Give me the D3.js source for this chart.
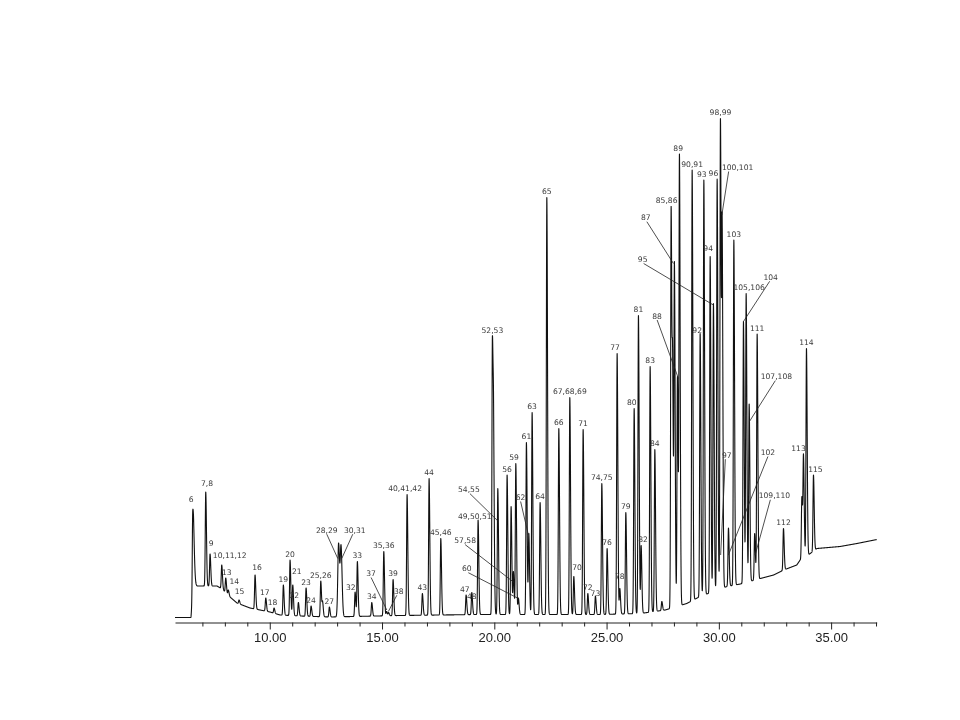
<!DOCTYPE html>
<html>
<head>
<meta charset="utf-8">
<script src="https://d3js.org/d3.v7.min.js"></script>
<style>
  body { margin: 0; background: #fff; }
  svg { will-change: transform; }
  .axis text { font-family: "Liberation Sans", Arial, sans-serif; font-size: 13px; fill: #222; }
  .axis path, .axis line { stroke: #222; }
  .lbl { font-family: "DejaVu Sans", Verdana, sans-serif; font-size: 7.6px; fill: #3a3a3a; }
</style>
</head>
<body>
<div id="chart"></div>
<script>
// peak labels ("" = unlabelled shoulder / second component)
const peakLabels = ["6","7,8","9","10,11,12","13","14","15","16","17","18",
  "19","20","21","22","23","24","25,26","","27","28,29",
  "30,31","32","33","34","35,36","37","38","39","40,41,42","43",
  "44","45,46","47","48","49,50,51","52,53","","54,55","56","57,58",
  "","59","60","61","62","63","64","65","66","67,68,69",
  "70","71","72","73","74,75","76","77","78","79","80",
  "81","82","83","84","","85,86","","87","88","89",
  "90,91","92","93","94","95","96","97","98,99","100,101","102",
  "103","104","105,106","107,108","109,110","111","112","","113","114","115"];

// retention time (min)
const peakTimes = [6.570,7.149,7.341,7.862,8.040,8.156,8.633,9.345,9.822,10.192,
  10.606,10.904,11.025,11.274,11.617,11.840,12.272,12.352,12.655,13.065,
  13.176,13.800,13.902,14.543,15.078,15.203,15.292,15.492,16.116,16.797,
  17.096,17.617,18.744,18.998,19.278,19.915,19.969,20.156,20.570,20.748,
  20.851,20.958,21.073,21.430,21.537,21.684,22.040,22.339,22.873,23.363,
  23.541,23.956,24.165,24.503,24.788,25.024,25.470,25.590,25.857,26.228,
  26.419,26.539,26.940,27.149,27.461,27.875,27.942,28.022,28.156,28.245,
  28.811,29.167,29.332,29.613,29.759,29.924,30.040,30.071,30.147,30.428,
  30.668,31.096,31.216,31.350,31.595,31.706,32.878,33.697,33.769,33.902,34.214];

// apex abundance (x1000)
const peakApex = [214,251,127,105,79,55,35,85,39,19,
  65,115,65,30,59,23,73,33,21,149,
  145,51,112,30,132,12,10,76,246,48,
  278,158,45,50,195,562,422,258,285,222,
  92,308,39,350,168,410,230,840,378,440,
  82,376,48,43,268,138,528,58,210,418,
  604,144,502,336,32,822,531,712,482,927,
  895,568,875,722,628,877,125,998,805,179,
  755,592,648,427,168,567,178,242,327,538,285];

// broader peaks: label -> [left sigma, right sigma] in min
const broadPeaks = { "6": [0.02, 0.055], "28,29": [0.035, 0.045], "30,31": [0.035, 0.045] };

// drifting baseline
const baseTimes = [5.78,6.49,6.606,7.03,7.65,7.88,8.23,8.54,9.12,9.57,
  10.01,10.46,11.35,12.69,15.81,19.37,24.71,26.50,27.61,28.57,
  29.16,29.76,30.36,30.96,31.85,32.44,32.89,33.47,33.62,33.98,
  34.37,35.40,36.15,37.04];
const baseValues = [0,0,63,63,63,57,41,29,19,15,
  11,5,3,1,4,6,6,8,15,28,
  42,52,62,67,78,85,95,105,115,125,
  138,142,148,156];

const majorTicks = [10, 15, 20, 25, 30, 35];
const minorTicks = d3.range(7, 38);

// label nudges (px) from the default spot just above the apex
const labelNudge = {
  "6":[-1.5,-5.5], "7,8":[1.3,-3], "9":[1,-5], "10,11,12":[8,-4], "13":[1,0], "14":[6,-3],
  "15":[0.5,-3], "16":[2,-2], "17":[-1,0], "18":[-1.5,0], "21":[4,-8], "22":[-4,-1],
  "32":[-4.3,1], "40,41,42":[-2,0], "47":[-1.3,0], "48":[0,9.5], "49,50,51":[-3.3,2.5],
  "59":[-1.7,0], "70":[3.3,-3], "73":[0,3], "77":[-2,0], "78":[0,-6.5], "80":[-2.3,0],
  "82":[2,0], "85,86":[-4.5,0], "89":[-1.3,0], "92":[-3,3], "93":[-2,0], "94":[-2,-2],
  "96":[-3.7,0], "105,106":[3,0], "113":[-5,0], "115":[2,0]
};

// labels with a leader line: target on the trace (time, abundance), text offset px, line start shift
const leaders = {
  "28,29":   { t: 13.029, v: 118, dx: -11,   dy: -25.8 },
  "30,31":   { t: 13.207, v: 118, dx: 13,    dy: -25.8, s: -2 },
  "37":      { t: 15.212, v: 15,  dx: -15.7, dy: -34 },
  "38":      { t: 15.283, v: 12,  dx: 10.4,  dy: -17.7, s: -2 },
  "54,55":   { t: 20.138, v: 194, dx: -28.5, dy: -28.4, s: 1 },
  "57,58":   { t: 20.882, v: 70,  dx: -49,   dy: -39.4 },
  "60":      { t: 21.074, v: 38,  dx: -51.6, dy: -27.3, s: 1.5 },
  "62":      { t: 21.519, v: 165, dx: -7.8,  dy: -35 },
  "87":      { t: 27.978, v: 708, dx: -27.6, dy: -43.3, s: 1 },
  "88":      { t: 28.200, v: 478, dx: -21.3, dy: -60 },
  "95":      { t: 29.759, v: 625, dx: -70.8, dy: -43,   s: 1 },
  "97":      { t: 30.080, v: 125, dx: 6.2,   dy: -97.3, s: -1.5 },
  "100,101": { t: 30.134, v: 805, dx: 15.8,  dy: -45,   s: -9 },
  "102":     { t: 30.426, v: 125, dx: 39.5,  dy: -100 },
  "104":     { t: 31.096, v: 592, dx: 27.2,  dy: -41.7, s: -1 },
  "107,108": { t: 31.363, v: 392, dx: 26.9,  dy: -42.4, s: -1 },
  "109,110": { t: 31.617, v: 125, dx: 19.2,  dy: -56.7, s: -4 }
};

const width = 960, height = 720;

const x = d3.scaleLinear().domain([5.78, 37.03]).range([175, 876.7]);
const y = d3.scaleLinear().domain([0, 1000]).range([617.5, 117.5]);

const baseline = d3.scaleLinear().domain(baseTimes).range(baseValues).clamp(true);

const peaks = peakLabels.map((label, i) => {
  const sig = broadPeaks[label] || [0.021, 0.032];
  return {
    label: label,
    t: peakTimes[i],
    apex: peakApex[i],
    excess: Math.max(0, peakApex[i] - baseline(peakTimes[i])),
    h: 0,
    sl: sig[0],
    sr: sig[1]
  };
});

function shape(p, t) {
  const d = t - p.t;
  const s = d < 0 ? p.sl : p.sr;
  return Math.abs(d) < 6 * s ? Math.exp(-0.5 * (d / s) * (d / s)) : 0;
}

// pick peak heights so overlapping neighbours still top out at the read apex
peaks.forEach(p => { p.h = p.excess; });
for (let k = 0; k < 40; k++) {
  const next = peaks.map(p => {
    let others = 0;
    peaks.forEach(q => { if (q !== p) others += q.h * shape(q, p.t); });
    return Math.max(0, p.excess - others);
  });
  peaks.forEach((p, i) => { p.h = 0.5 * p.h + 0.5 * next[i]; });
}

function signal(t) {
  let v = baseline(t);
  peaks.forEach(p => { v += p.h * shape(p, t); });
  return v;
}

// sample the trace finely, plus each apex
let ts = d3.range(x.domain()[0], x.domain()[1], 0.004).concat(peakTimes);
ts.sort((a, b) => a - b);
const trace = ts.map(t => [t, signal(t)]);

const svg = d3.select("#chart")
  .append("svg")
  .attr("width", width)
  .attr("height", height);

// x axis
const axis = svg.append("g")
  .attr("class", "axis")
  .attr("transform", "translate(0,622.5)")
  .call(d3.axisBottom(x)
    .tickValues(minorTicks)
    .tickSize(4)
    .tickSizeOuter(0)
    .tickFormat(d => majorTicks.includes(d) ? d.toFixed(2) : ""));

axis.selectAll(".tick")
  .filter(d => majorTicks.includes(d))
  .select("line")
  .attr("y2", 7);

axis.selectAll(".tick text")
  .attr("y", 19.2)
  .attr("dy", 0);

// trace
svg.append("path")
  .datum(trace)
  .attr("fill", "none")
  .attr("stroke", "#111")
  .attr("stroke-width", 1.1)
  .attr("stroke-linejoin", "round")
  .attr("d", d3.line().x(d => x(d[0])).y(d => y(d[1])));

// peak labels
const labelled = peaks.filter(p => p.label !== "");

labelled.forEach(p => {
  const L = leaders[p.label];
  if (L) {
    const tx = x(L.t), ty = y(L.v);
    const lx = tx + L.dx, ly = ty + L.dy;
    svg.append("line")
      .attr("x1", lx + (L.s || 0))
      .attr("y1", ly + 1.5)
      .attr("x2", tx)
      .attr("y2", ty)
      .attr("stroke", "#222")
      .attr("stroke-width", 0.8);
    svg.append("text")
      .attr("class", "lbl")
      .attr("x", lx)
      .attr("y", ly)
      .attr("text-anchor", "middle")
      .text(p.label);
  } else {
    const n = labelNudge[p.label] || [0, 0];
    svg.append("text")
      .attr("class", "lbl")
      .attr("x", x(p.t) + n[0])
      .attr("y", y(p.apex) - 3.5 + n[1])
      .attr("text-anchor", "middle")
      .text(p.label);
  }
});
</script>
</body>
</html>
